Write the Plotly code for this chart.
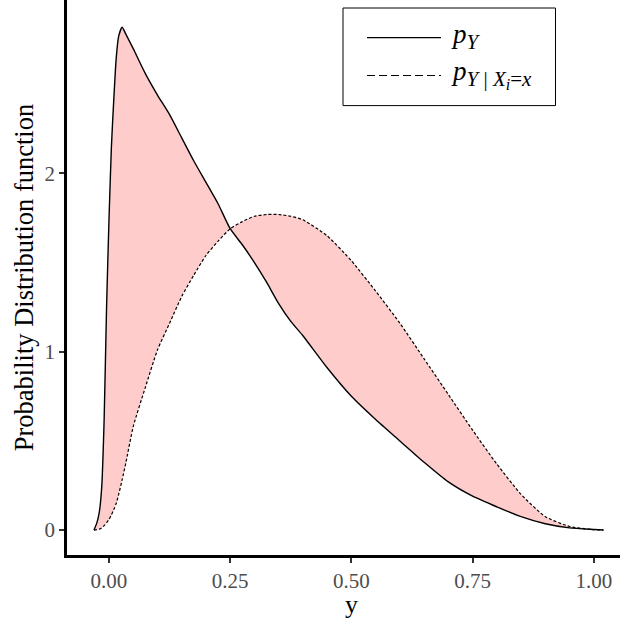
import plotly.graph_objects as go

# ---- data ----
y_grid = [-0.031, -0.025, -0.02, -0.015, -0.01, -0.005, 0.0, 0.005, 0.01, 0.015, 0.02,
          0.027, 0.035, 0.05, 0.075, 0.1, 0.125, 0.15, 0.175, 0.2, 0.225, 0.25, 0.275,
          0.3, 0.325, 0.35, 0.375, 0.4, 0.45, 0.5, 0.55, 0.6, 0.65, 0.7, 0.75, 0.8,
          0.85, 0.9, 0.95, 1.0, 1.02]

p_y = [0.0, 0.04, 0.10, 0.24, 0.62, 1.25, 1.74, 2.15, 2.42, 2.65, 2.77,
       2.82, 2.78, 2.70, 2.56, 2.44, 2.33, 2.20, 2.07, 1.95, 1.83, 1.69, 1.60,
       1.50, 1.39, 1.27, 1.17, 1.09, 0.91, 0.75, 0.62, 0.50, 0.38, 0.27, 0.19, 0.13,
       0.075, 0.035, 0.012, 0.003, 0.0]

p_y_cond = [0.0, 0.002, 0.005, 0.012, 0.025, 0.04, 0.06, 0.085, 0.115, 0.15, 0.20,
            0.28, 0.38, 0.58, 0.80, 1.01, 1.16, 1.31, 1.43, 1.54, 1.62, 1.69, 1.73,
            1.76, 1.77, 1.77, 1.76, 1.74, 1.65, 1.51, 1.34, 1.16, 0.96, 0.76, 0.56, 0.37,
            0.20, 0.075, 0.02, 0.002, 0.0]

x_tickvals = [0.0, 0.25, 0.5, 0.75, 1.0]
x_ticktext = ["0.00", "0.25", "0.50", "0.75", "1.00"]
y_tickvals = [0, 1, 2]
y_ticktext = ["0", "1", "2"]

x_title = "y"
y_title = "Probability Distribution function"

legend_labels = [
    "<i>p</i><sub><span style='font-size:21px'><i>Y</i></span></sub>",
    "<i>p</i><sub><span style='font-size:21px'><i>Y</i> | <i>X</i></span>"
    "<sub><span style='font-size:16px'><i>i</i></span></sub>"
    "<span style='font-size:21px'>=<i>x</i></span></sub>",
]

FONT = "Liberation Serif"
W, H = 620, 623
ML, MR, MT, MB = 67, 0, 0, 68
PW, PH = W - ML - MR, H - MT - MB

fig = go.Figure()
fig.add_trace(go.Scatter(x=y_grid, y=p_y_cond, mode="lines",
                         line=dict(color="black", width=1.2, dash="3px,2px", shape="spline", smoothing=0.6),
                         showlegend=False, hoverinfo="skip"))
fig.add_trace(go.Scatter(x=y_grid, y=p_y, mode="lines",
                         line=dict(color="black", width=1.4, shape="spline", smoothing=0.6),
                         fill="tonexty", fillcolor="rgb(255,204,204)",
                         showlegend=False, hoverinfo="skip"))

def px_x(p):
    return (p - ML) / PW

def px_y(p):
    return 1 - (p - MT) / PH

# legend box
fig.add_shape(type="rect", xref="paper", yref="paper",
              x0=px_x(343), x1=px_x(555.5), y0=px_y(105.6), y1=px_y(8),
              line=dict(color="black", width=1), fillcolor="white", layer="above")
for row_y, dash in [(37.6, "solid"), (75.5, "8px,4px")]:
    fig.add_shape(type="line", xref="paper", yref="paper",
                  x0=px_x(367), x1=px_x(441), y0=px_y(row_y), y1=px_y(row_y),
                  line=dict(color="black", width=1.2, dash=dash), layer="above")
for row_y, txt in zip([36.5, 74.5], legend_labels):
    fig.add_annotation(xref="paper", yref="paper", x=px_x(449), y=px_y(row_y),
                       xanchor="left", yanchor="middle", text=txt, showarrow=False,
                       font=dict(family=FONT, size=27, color="black"))

# x axis title placed below the tick labels
fig.add_annotation(xref="x", yref="paper", x=0.5, y=px_y(604), xanchor="center",
                   yanchor="middle", text=x_title, showarrow=False,
                   font=dict(family=FONT, size=26, color="black"))

axis_common = dict(showgrid=False, zeroline=False, showline=True, linecolor="black",
                   linewidth=2.5, ticks="outside", ticklen=5, tickwidth=2,
                   tickcolor="#333333", automargin=False,
                   tickfont=dict(family=FONT, size=21, color="#4d4d4d"))

fig.update_layout(
    width=W, height=H, margin=dict(l=ML, r=MR, t=MT, b=MB),
    plot_bgcolor="white", paper_bgcolor="white",
    xaxis=dict(range=[-0.0866, 1.054], tickvals=x_tickvals, ticktext=x_ticktext,
               **axis_common),
    yaxis=dict(range=[-0.140, 2.973], tickvals=y_tickvals, ticktext=y_ticktext,
               title=dict(text=y_title,
                          font=dict(family=FONT, size=26.5, color="black"), standoff=4),
               **axis_common),
)

fig.write_html("out.html", config={"displayModeBar": False},
               post_script="document.body.style.margin='0';")
